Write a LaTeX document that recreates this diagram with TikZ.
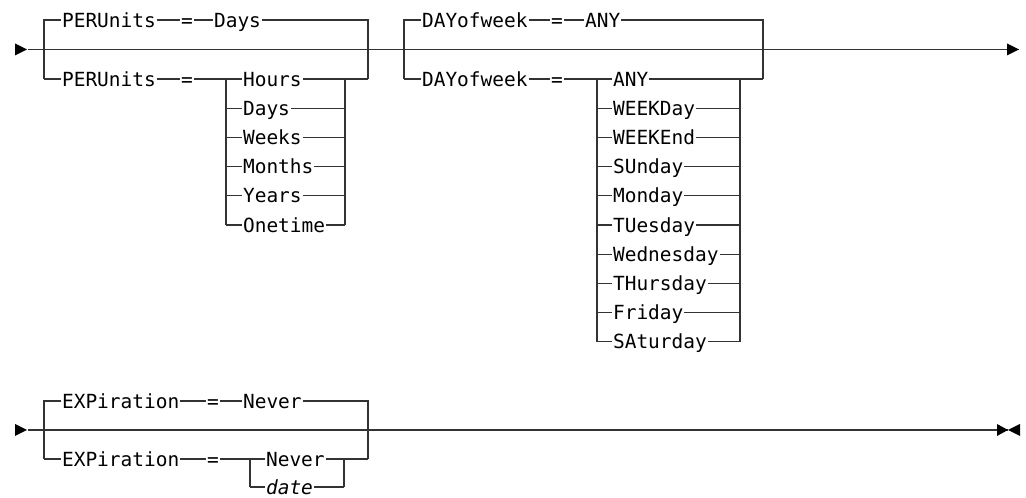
\documentclass[tikz,border=0pt]{standalone}
\usepackage{fontspec}
\newfontfamily\diagfont{DejaVu Sans Mono}
\usetikzlibrary{arrows.meta}
\begin{document}
\begin{tikzpicture}[x=0.75pt,y=-0.75pt,
  ln/.style={draw=black!80, line width=0.9pt},
  tipfill/.style={fill=black},
  kw/.style={font=\diagfont\fontsize{14.6}{16}\selectfont, anchor=west,
    inner xsep=0.6pt, inner ysep=0pt, text height=10.6pt, text depth=0pt},
  var/.style={kw, font=\diagfont\itshape\fontsize{14.6}{16}\selectfont}]
\useasboundingbox (0,0) rectangle (1026,498);

% ---------------- Row 1 ----------------
\coordinate (s1) at (28,49.5);
\coordinate (e1) at (1019,49.5);
% group A: PERUnits
\coordinate (aTL) at (44,20);
\coordinate (aBL) at (44,79);
\coordinate (aTR) at (368,20);
\coordinate (aBR) at (368,79);
\node[kw] (a1) at (61,20) {PERUnits};
\node[kw] (a1e) at (180,20) {=};
\node[kw] (a1v) at (213,20) {Days};
\node[kw] (a2) at (61,79) {PERUnits};
\node[kw] (a2e) at (180,79) {=};
\coordinate (aJ1) at (226,79);
\coordinate (aJ2) at (226,225);
\coordinate (aK1) at (345,79);
\coordinate (aK2) at (345,225);
\node[kw] (ai1) at (242,79) {Hours};
\node[kw] (ai2) at (242,108.2) {Days};
\node[kw] (ai3) at (242,137.4) {Weeks};
\node[kw] (ai4) at (242,166.6) {Months};
\node[kw] (ai5) at (242,195.8) {Years};
\node[kw] (ai6) at (242,225) {Onetime};

\draw[ln] (aBL) -- (aTL) -- (a1) -- (a1e) -- (a1v) -- (aTR) -- (aBR);
\draw[ln] (aBL) -- (a2) -- (a2e) -- (aJ1) -- (aJ2);
\draw[ln] (aK1) -- (aK2);
\draw[ln] (aK1) -- (aBR);
\foreach \i in {1,...,6} {
  \draw[ln] (aJ1 |- ai\i) -- (ai\i) -- (aK1 |- ai\i);
}

% group B: DAYofweek
\coordinate (bTL) at (404,20);
\coordinate (bBL) at (404,79);
\coordinate (bTR) at (763,20);
\coordinate (bBR) at (763,79);
\node[kw] (b1) at (421,20) {DAYofweek};
\node[kw] (b1e) at (550,20) {=};
\node[kw] (b1v) at (584,20) {ANY};
\node[kw] (b2) at (421,79) {DAYofweek};
\node[kw] (b2e) at (550,79) {=};
\coordinate (bJ1) at (597,79);
\coordinate (bJ2) at (597,341.8);
\coordinate (bK1) at (740,79);
\coordinate (bK2) at (740,341.8);
\node[kw] (bi1) at (612,79) {ANY};
\node[kw] (bi2) at (612,108.2) {WEEKDay};
\node[kw] (bi3) at (612,137.4) {WEEKEnd};
\node[kw] (bi4) at (612,166.6) {SUnday};
\node[kw] (bi5) at (612,195.8) {Monday};
\node[kw] (bi6) at (612,225) {TUesday};
\node[kw] (bi7) at (612,254.2) {Wednesday};
\node[kw] (bi8) at (612,283.4) {THursday};
\node[kw] (bi9) at (612,312.6) {Friday};
\node[kw] (bi10) at (612,341.8) {SAturday};

\draw[ln] (bBL) -- (bTL) -- (b1) -- (b1e) -- (b1v) -- (bTR) -- (bBR);
\draw[ln] (bBL) -- (b2) -- (b2e) -- (bJ1) -- (bJ2);
\draw[ln] (bK1) -- (bK2);
\draw[ln] (bK1) -- (bBR);
\foreach \i in {1,...,10} {
  \draw[ln] (bJ1 |- bi\i) -- (bi\i) -- (bK1 |- bi\i);
}

% main line row 1
\draw[ln] (s1) -- (e1);
\fill[tipfill] (s1) ++(-13,-6) -- ++(12,6) -- ++(-12,6) -- cycle;
\fill[tipfill] (e1) ++(-12,-6) -- ++(12,6) -- ++(-12,6) -- cycle;

% ---------------- Row 2 ----------------
\coordinate (s2) at (28,430);
\coordinate (e2) at (1008,430);
\coordinate (cTL) at (44,401);
\coordinate (cBL) at (44,459);
\coordinate (cTR) at (368,401);
\coordinate (cBR) at (368,459);
\node[kw] (c1) at (61,401) {EXPiration};
\node[kw] (c1e) at (206,401) {=};
\node[kw] (c1v) at (242,401) {Never};
\node[kw] (c2) at (61,459) {EXPiration};
\node[kw] (c2e) at (206,459) {=};
\coordinate (cJ1) at (250,459);
\coordinate (cJ2) at (250,487);
\coordinate (cK1) at (344,459);
\coordinate (cK2) at (344,487);
\node[kw] (ci1) at (265,459) {Never};
\node[var] (ci2) at (265,487) {date};

\draw[ln] (cBL) -- (cTL) -- (c1) -- (c1e) -- (c1v) -- (cTR) -- (cBR);
\draw[ln] (cBL) -- (c2) -- (c2e) -- (cJ1) -- (cJ2);
\draw[ln] (cK1) -- (cK2);
\draw[ln] (cK1) -- (cBR);
\foreach \i in {1,2} {
  \draw[ln] (cJ1 |- ci\i) -- (ci\i) -- (cK1 |- ci\i);
}

\draw[ln] (s2) -- (e2);
\fill[tipfill] (s2) ++(-13,-6) -- ++(12,6) -- ++(-12,6) -- cycle;
\fill[tipfill] (e2) ++(-11,-6) -- ++(11,6) -- ++(-11,6) -- cycle;
\fill[tipfill] (e2) ++(12,-6) -- ++(-12,6) -- ++(12,6) -- cycle;
\end{tikzpicture}
\end{document}
